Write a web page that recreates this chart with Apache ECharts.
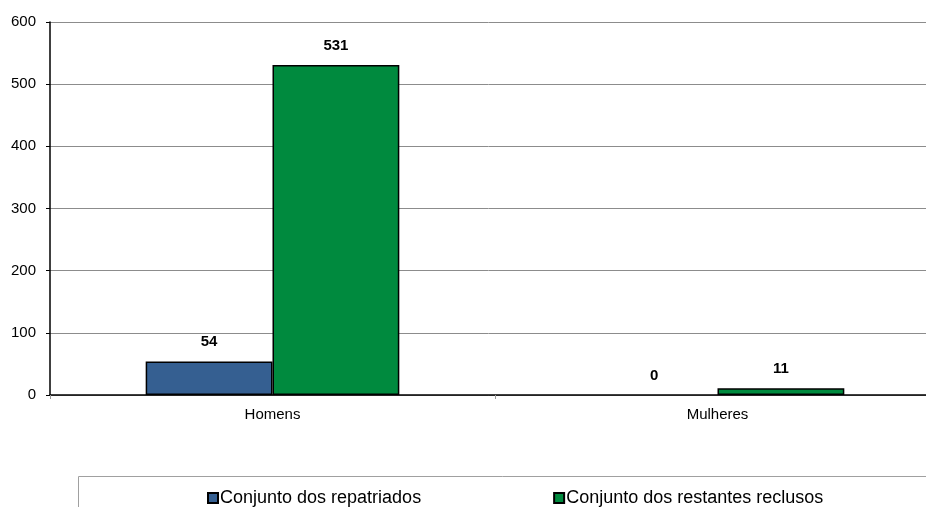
<!DOCTYPE html>
<html>
<head>
<meta charset="utf-8">
<script src="https://cdn.jsdelivr.net/npm/echarts@6/dist/echarts.min.js"></script>
<style>
  html, body { margin: 0; padding: 0; background: #fff; }
  #main { width: 926px; height: 507px; }
</style>
</head>
<body>
<div id="main"></div>
<script>
// dados do gráfico
const categorias = ['Homens', 'Mulheres']
const repatriados = [54, 0]
const restantes = [531, 11]
const nomesSeries = ['Conjunto dos repatriados', 'Conjunto dos restantes reclusos']

const chart = echarts.init(document.getElementById('main'))

const rotulo = {
  show: true,
  position: 'top',
  distance: 12,
  color: '#000',
  fontWeight: 'bold',
  fontSize: 15,
  fontFamily: 'Liberation Sans, Arial, sans-serif',
}

// barra com valor 0 fica sem contorno
function barras(valores) {
  return valores.map((v) => (v === 0 ? { value: v, itemStyle: { borderWidth: 0 } } : v))
}

const option = {
  animation: false,
  textStyle: { fontFamily: 'Liberation Sans, Arial, sans-serif' },
  grid: {
    left: 50,
    width: 890,
    top: 22,
    bottom: 112,
    containLabel: false,
    outerBoundsMode: 'none',
  },
  legend: {
    left: 202,
    top: 484,
    itemWidth: 10,
    itemHeight: 10,
    itemGap: 132,
    icon: 'rect',
    textStyle: { fontSize: 18, color: '#000', padding: [0, 0, 0, -3] },
    data: nomesSeries,
  },
  graphic: [
    {
      type: 'rect',
      shape: { x: 78.5, y: 476.5, width: 900, height: 100 },
      style: { fill: 'none', stroke: '#a0a0a0', lineWidth: 1 },
      z: -1,
    },
  ],
  xAxis: {
    type: 'category',
    data: categorias,
    axisLine: { lineStyle: { color: '#000', width: 1.5 } },
    axisTick: { show: true, length: 4, lineStyle: { color: '#999' } },
    axisLabel: { color: '#000', fontSize: 15, margin: 12 },
  },
  yAxis: {
    type: 'value',
    min: 0,
    max: 600,
    interval: 100,
    axisLine: { show: true, lineStyle: { color: '#000', width: 1.5 } },
    axisTick: { show: true, length: 4, lineStyle: { color: '#000' } },
    axisLabel: { color: '#000', fontSize: 15, margin: 14 },
    splitLine: { lineStyle: { color: '#8c8c8c', width: 1 } },
  },
  series: [
    {
      name: nomesSeries[0],
      type: 'bar',
      data: barras(repatriados),
      barGap: '0%',
      barCategoryGap: '43%',
      itemStyle: { color: '#355f91', borderColor: '#000', borderWidth: 1.5 },
      label: rotulo,
    },
    {
      name: nomesSeries[1],
      type: 'bar',
      data: barras(restantes),
      barGap: '0%',
      barCategoryGap: '43%',
      itemStyle: { color: '#008a3e', borderColor: '#000', borderWidth: 1.5 },
      label: rotulo,
    },
  ],
}

chart.setOption(option)
</script>
</body>
</html>
